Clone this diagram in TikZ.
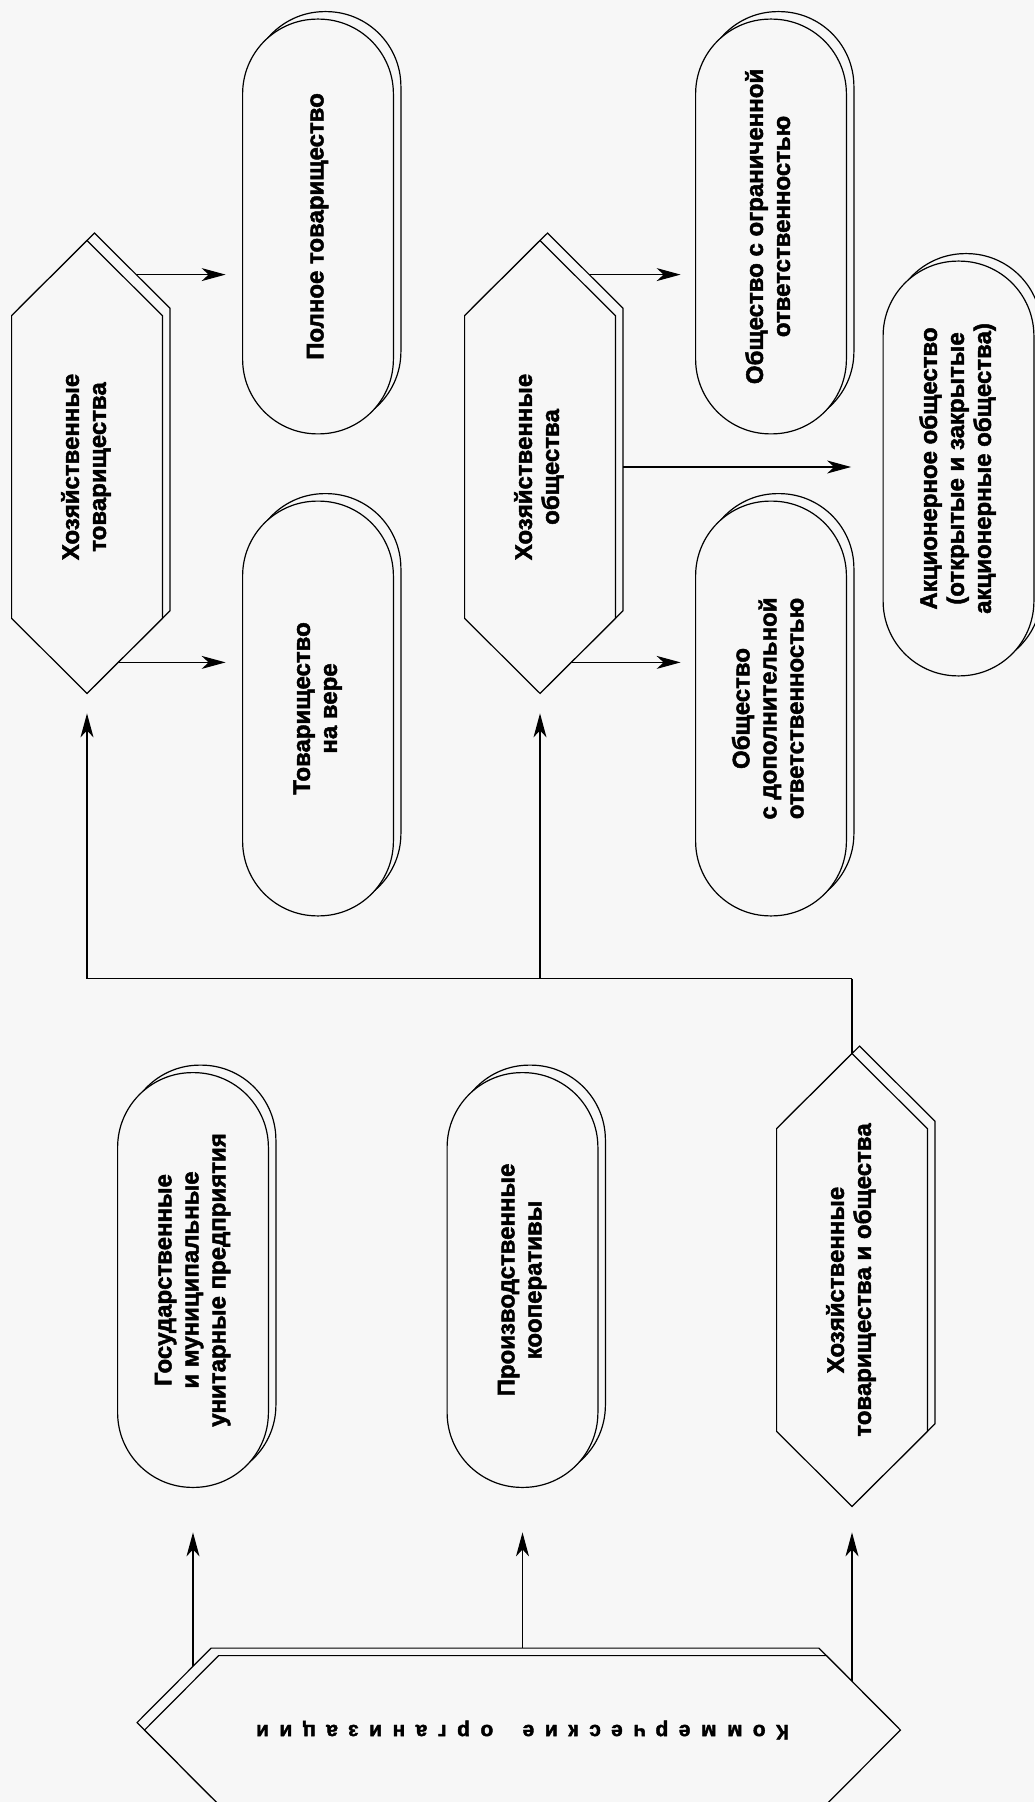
\documentclass[tikz,border=0pt]{standalone}
\usepackage{fontspec}
\usepackage{graphicx}
\setmainfont{Liberation Sans}
\newfontfamily\lblfont{Liberation Sans Bold}[FakeBold=2]
\newfontfamily\spacedfont{Liberation Sans Bold}[LetterSpace=50,FakeBold=2]
\usetikzlibrary{calc,arrows.meta}
\definecolor{bgc}{HTML}{F7F7F7}
\pgfdeclarelayer{back}
\pgfdeclarelayer{edges}
\pgfdeclarelayer{shapes}
\pgfsetlayers{back,edges,shapes,main}
\tikzset{
  lbl/.style={inner sep=0pt, font=\lblfont\fontsize{12pt}{13.5pt}\selectfont},
  pillnode/.style={lbl, minimum width=75pt, minimum height=207pt},
  hexnode/.style={lbl, minimum width=75pt, minimum height=226pt},
  outline/.style={draw=black, line width=0.6pt, fill=bgc, line join=miter},
  conn/.style={draw=black, line width=0.6pt},
  arr/.style={conn, -{Stealth[length=12pt,width=6.5pt,inset=3.5pt]}},
}
\newcommand\pillshape[3]{\path[outline, rounded corners=37.4pt] ($(#1.north west)+(#2,#3)$) rectangle ($(#1.south east)+(#2,#3)$);}
\newcommand\vhexshape[3]{\path[outline] ($(#1.north)+(#2,#3)$) -- ($(#1.north east)+(#2,#3+75)$) -- ($(#1.south east)+(#2,#3-75)$) -- ($(#1.south)+(#2,#3)$) -- ($(#1.south west)+(#2,#3-75)$) -- ($(#1.north west)+(#2,#3+75)$) -- cycle;}
\newcommand\comshape[2]{\path[outline] ($(com.west)+(#1,#2)$) -- ($(com.north west)+(#1+74,#2)$) -- ($(com.north east)+(#1-74,#2)$) -- ($(com.east)+(#1,#2)$) -- ($(com.south east)+(#1-74,#2)$) -- ($(com.south west)+(#1+74,#2)$) -- cycle;}
\newcommand\rt[1]{\rotatebox{90}{\begin{tabular}{@{}c@{}}#1\end{tabular}}}
\begin{document}
\begin{tikzpicture}[x=0.5pt,y=-0.5pt]
\useasboundingbox (0,0) rectangle (1034,1802);
\begin{pgfonlayer}{back}
\fill[bgc] (0,0) rectangle (1034,1802);
\end{pgfonlayer}
% nodes (text)
\node[pillnode] (pt) at (318,226.5) {\rt{Полное товарищество}};
\node[pillnode] (tv) at (318,708.5) {\rt{Товарищество\\на вере}};
\node[pillnode] (ool) at (771,226.5) {\rt{Общество с ограниченной\\ответственностью}};
\node[pillnode] (odo) at (771,708.5) {\rt{Общество\\с дополнительной\\ответственностью}};
\node[pillnode] (ao) at (958.5,468.5) {\rt{Акционерное общество\\(открытые и закрытые\\акционерные общества)}};
\node[hexnode] (ht) at (87,467) {\rt{Хозяйственные\\товарищества}};
\node[hexnode] (ho) at (540,467) {\rt{Хозяйственные\\общества}};
\node[pillnode] (gos) at (193,1280) {\rt{Государственные\\и муниципальные\\унитарные предприятия}};
\node[pillnode] (coop) at (522.5,1280) {\rt{Производственные\\кооперативы}};
\node[hexnode] (htso) at (852,1280) {\rt{Хозяйственные\\товарищества и общества}};
\node[lbl, minimum width=377.5pt, minimum height=74pt] (com) at (522.5,1730) {\rotatebox{180}{\spacedfont\fontsize{10.5pt}{12pt}\selectfont Коммерческие\ \hspace{6.5pt}организации}};
% shapes
\begin{pgfonlayer}{shapes}
\pillshape{pt}{7.5}{-7.5}\pillshape{pt}{0}{0}
\pillshape{tv}{7.5}{-7.5}\pillshape{tv}{0}{0}
\pillshape{ool}{7.5}{-7.5}\pillshape{ool}{0}{0}
\pillshape{odo}{7.5}{-7.5}\pillshape{odo}{0}{0}
\pillshape{ao}{7.5}{-7.5}\pillshape{ao}{0}{0}
\pillshape{gos}{7.5}{-7.5}\pillshape{gos}{0}{0}
\pillshape{coop}{7.5}{-7.5}\pillshape{coop}{0}{0}
\vhexshape{ht}{7.5}{-7.5}\vhexshape{ht}{0}{0}
\vhexshape{ho}{7.5}{-7.5}\vhexshape{ho}{0}{0}
\vhexshape{htso}{7.5}{-7.5}\vhexshape{htso}{0}{0}
\comshape{-7.5}{-7.5}\comshape{0}{0}
\end{pgfonlayer}
% connectors
\begin{pgfonlayer}{edges}
\coordinate (j) at ($(htso.north)+(0,-75)$);
\draw[conn] (htso.north) -- (j);
\draw[arr, shorten >=10pt] (j) -| (ht.south);
\draw[arr, shorten >=10pt] (ho.south |- j) -- (ho.south);
\draw[arr, shorten >=22.5pt] (gos.south |- com.center) -- (gos.south);
\draw[arr, shorten >=22.5pt] (coop.south |- com.center) -- (coop.south);
\draw[arr, shorten >=13pt] (htso.south |- com.center) -- (htso.south);
\coordinate (a1) at ($(ht.north)+(0,34)$);
\coordinate (a2) at ($(ht.south)+(0,-31)$);
\coordinate (b1) at ($(ho.north)+(0,34)$);
\coordinate (b2) at ($(ho.south)+(0,-31)$);
\draw[arr, shorten >=8.5pt] (a1) -- (a1 -| pt.west);
\draw[arr, shorten >=8.5pt] (a2) -- (a2 -| tv.west);
\draw[arr, shorten >=7.5pt] (b1) -- (b1 -| ool.west);
\draw[arr, shorten >=7.5pt] (b2) -- (b2 -| odo.west);
\draw[arr, shorten >=16pt] (ho.center) -- (ho.center -| ao.west);
\end{pgfonlayer}
\end{tikzpicture}
\end{document}
